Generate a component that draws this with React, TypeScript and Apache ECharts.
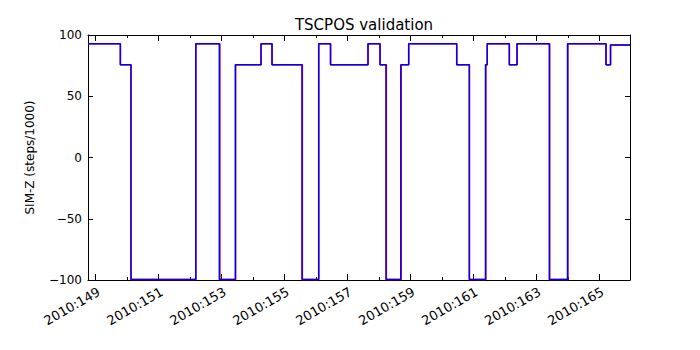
import React, { useEffect, useRef } from "react";
import * as echarts from "echarts";

// Day-of-year (2010) where the commanded SIM-Z position changes, and the new value (steps/1000)
const blueDays = [148.755, 149.782, 150.122, 152.18, 152.927, 153.435, 154.252, 154.601, 155.554, 156.085, 156.46, 157.651, 158.033, 158.223, 158.693, 158.944, 160.469, 160.87, 161.384, 161.438, 162.141, 162.385, 163.411, 163.99, 165.213, 165.356, 165.975];
const blueVals = [92.905, 75.62, -99.616, 92.905, -99.616, 75.62, 92.905, 75.62, -99.616, 92.905, 75.62, 92.905, 75.62, -99.616, 75.62, 92.905, 75.62, -99.616, 75.62, 92.905, 75.62, 92.905, -99.616, 92.905, 75.62, 91.8, 91.8];

const redDays = [148.755, 149.785, 150.118, 152.18, 152.945, 153.447, 154.252, 154.603, 155.566, 156.085, 156.462, 157.651, 158.034, 158.235, 158.703, 158.944, 160.47, 160.873, 161.396, 161.44, 162.142, 162.386, 163.425, 164.002, 165.214, 165.357, 165.975];
const redVals = [92.905, 75.62, -99.616, 92.905, -99.616, 75.62, 92.905, 75.62, -99.616, 92.905, 75.62, 92.905, 75.62, -99.616, 75.62, 92.905, 75.62, -99.616, 75.62, 92.905, 75.62, 92.905, -99.616, 92.905, 75.62, 91.8, 91.8];

const majorDays = [149, 151, 153, 155, 157, 159, 161, 163, 165];
const minorDays = [150, 152, 154, 156, 158, 160, 162, 164];

const X_MIN = 148.755;
const X_MAX = 165.975;
const FONT = "DejaVu Sans";

export default function App() {
  const ref = useRef<HTMLDivElement>(null);
  useEffect(() => {
    if (!ref.current) return;
    const chart = echarts.init(ref.current, null, { renderer: "svg" });
    const line = { show: true, onZero: false, lineStyle: { color: "#000", width: 1 } };
    const mkX = (pos: "bottom" | "top", vals: number[], len: number, labels: boolean, showLine: boolean) => ({
      type: "value",
      position: pos,
      min: X_MIN,
      max: X_MAX,
      splitLine: { show: false },
      axisLine: showLine ? line : { show: false, onZero: false },
      axisTick: { show: true, inside: true, length: len, customValues: vals, lineStyle: { color: "#000", width: 1 } },
      axisLabel: labels
        ? {
            show: true,
            customValues: majorDays,
            rotate: 30,
            margin: 5,
            align: "right",
            verticalAlign: "top",
            fontFamily: FONT,
            fontSize: 13,
            color: "#000",
            formatter: (v: number) => "2010:" + Math.round(v),
          }
        : { show: false },
    });
    const mkY = (pos: "left" | "right", labels: boolean) => ({
      type: "value",
      position: pos,
      min: -100,
      max: 100,
      interval: 50,
      splitLine: { show: false },
      axisLine: line,
      axisTick: { show: true, inside: true, length: 5, lineStyle: { color: "#000", width: 1 } },
      name: labels ? "SIM-Z (steps/1000)" : "",
      nameLocation: "middle",
      nameGap: 52,
      nameTextStyle: { fontFamily: FONT, fontSize: 12, color: "#000" },
      axisLabel: labels
        ? {
            show: true,
            margin: 6,
            fontFamily: FONT,
            fontSize: 12,
            color: "#000",
            formatter: (v: number) => (v < 0 ? "\u2212" + Math.abs(v) : String(v)),
          }
        : { show: false },
    });
    chart.setOption({
      animation: false,
      backgroundColor: "#fff",
      title: {
        text: "TSCPOS validation",
        left: 359,
        textAlign: "center",
        top: 12,
        textStyle: { fontFamily: FONT, fontSize: 15, fontWeight: "normal", color: "#000" },
      },
      grid: { left: 88, right: 70, top: 35, bottom: 70 },
      xAxis: [
        mkX("bottom", majorDays, 6, true, true),
        mkX("bottom", minorDays, 3, false, false),
        mkX("top", majorDays, 6, false, true),
        mkX("top", minorDays, 3, false, false),
      ],
      yAxis: [mkY("left", true), mkY("right", false)],
      series: [
        {
          type: "line",
          step: "end",
          xAxisIndex: 0,
          yAxisIndex: 0,
          showSymbol: false,
          data: redDays.map((d, i) => [d, redVals[i]]),
          lineStyle: { color: "#ff0000", width: 1.5 },
        },
        {
          type: "line",
          step: "end",
          xAxisIndex: 0,
          yAxisIndex: 0,
          showSymbol: false,
          data: blueDays.map((d, i) => [d, blueVals[i]]),
          lineStyle: { color: "#0000ff", width: 1.5 },
        },
      ],
    });
    return () => chart.dispose();
  }, []);
  return <div ref={ref} style={{ width: 700, height: 350, position: "absolute", left: 0, top: 0 }} />;
}
